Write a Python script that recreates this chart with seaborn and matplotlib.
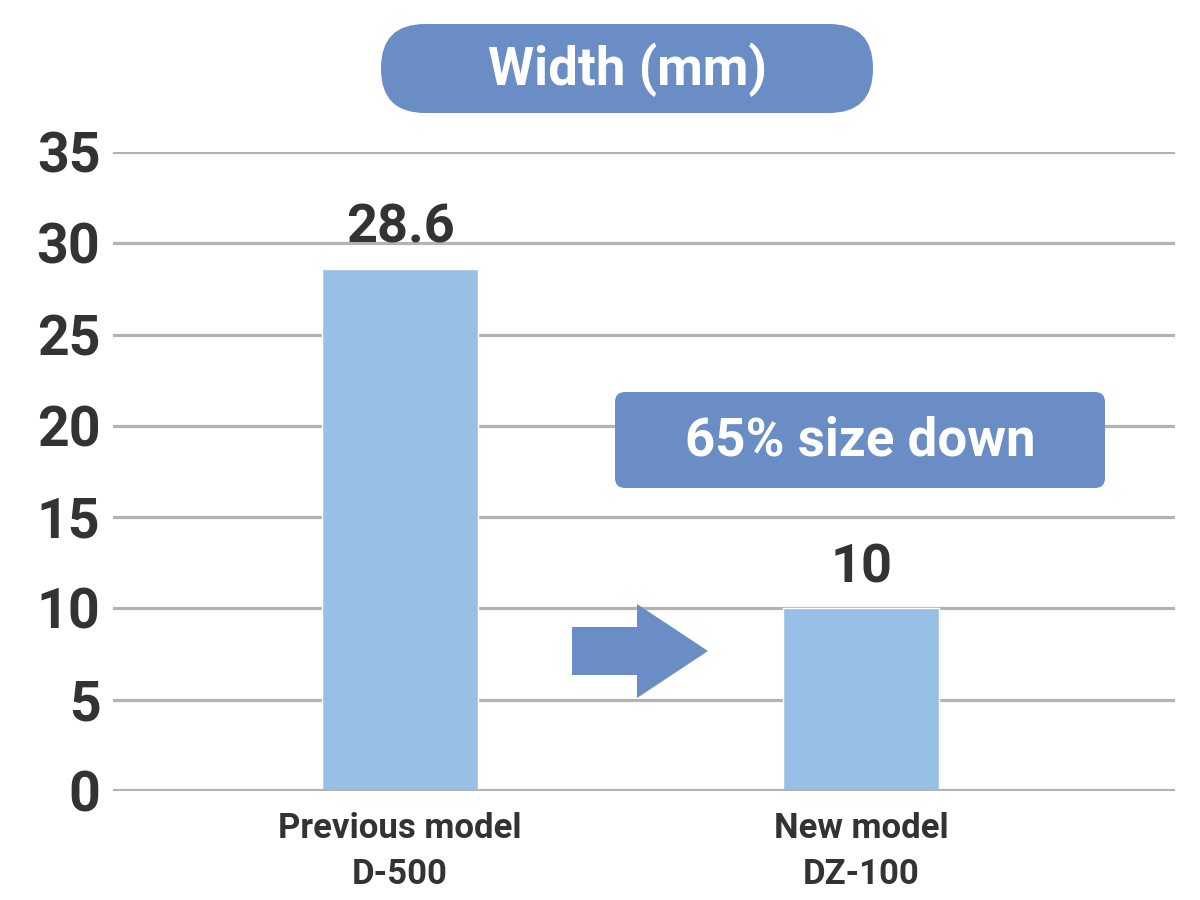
import matplotlib
matplotlib.use("Agg")
import matplotlib.pyplot as plt
import seaborn as sns
import pandas as pd
from matplotlib.patches import FancyBboxPatch, Polygon

# ---- data ----
categories = ["Previous model\nD-500", "New model\nDZ-100"]
widths_mm = [28.6, 10]
value_labels = ["28.6", "10"]
y_ticks = [0, 5, 10, 15, 20, 25, 30, 35]
title_text = "Width (mm)"
callout_text = "65% size down"

# ---- style ----
sns.set_theme(style="white")
FONT = ["Roboto", "DejaVu Sans"]
plt.rcParams["font.family"] = FONT
plt.rcParams["font.weight"] = "bold"

BAR = "#98bfe5"
ACCENT = "#6a8dc5"
GRID = "#b3b3b3"
TXT = "#333333"

fig = plt.figure(figsize=(12, 9), dpi=100)
ax = fig.add_axes([113/1200, 1 - 791/900, (1175-113)/1200, (791-152)/900])

df = pd.DataFrame({"model": categories, "width": widths_mm})
sns.barplot(data=df, x="model", y="width", color=BAR, saturation=1,
            width=0.338, ax=ax, zorder=3)

ax.set_ylim(0, 35)
ax.set_xlim(-0.623, 1.681)
ax.set_yticks(y_ticks)
ax.set_yticklabels([str(t) for t in y_ticks], fontsize=40, color=TXT,
                   fontweight="bold")
ax.tick_params(axis="y", length=0, pad=9)
ax.tick_params(axis="x", length=0, pad=15)
for lbl in ax.get_xticklabels():
    lbl.set_fontsize(25)
    lbl.set_color(TXT)
    lbl.set_fontweight("bold")
    lbl.set_linespacing(1.5)
ax.set_xlabel("")
ax.set_ylabel("")
for s in ax.spines.values():
    s.set_visible(False)
ax.yaxis.grid(True, color=GRID, linewidth=2.3, zorder=0)
ax.set_axisbelow(True)
ax.axhline(0, color=GRID, linewidth=3, zorder=4)

for i, (v, lab) in enumerate(zip(widths_mm, value_labels)):
    ax.annotate(lab, (i, v), xytext=(0, 19), textcoords="offset points",
                ha="center", va="baseline", fontsize=39, color=TXT,
                fontweight="bold")

# ---- overlay in pixel coordinates ----
ov = fig.add_axes([0, 0, 1, 1], zorder=10)
ov.set_xlim(0, 1200)
ov.set_ylim(900, 0)
ov.axis("off")
ov.patch.set_alpha(0)

# title pill
ov.add_patch(FancyBboxPatch((381, 24), 492, 89,
                            boxstyle="round,pad=0,rounding_size=44",
                            facecolor=ACCENT, edgecolor="none"))
ov.text(627, 70, title_text, ha="center", va="center", fontsize=38,
        color="white", fontweight="bold")

# callout box
ov.add_patch(FancyBboxPatch((615, 392), 490, 96,
                            boxstyle="round,pad=0,rounding_size=10",
                            facecolor=ACCENT, edgecolor="none"))
ov.text(860, 441, callout_text, ha="center", va="center", fontsize=38,
        color="white", fontweight="bold")

# arrow
ov.add_patch(Polygon([(572, 627), (637, 627), (637, 604), (708, 651),
                      (637, 698), (637, 675), (572, 675)],
                     closed=True, facecolor=ACCENT, edgecolor="none"))

fig.savefig("out.png", dpi=100, facecolor="white")
